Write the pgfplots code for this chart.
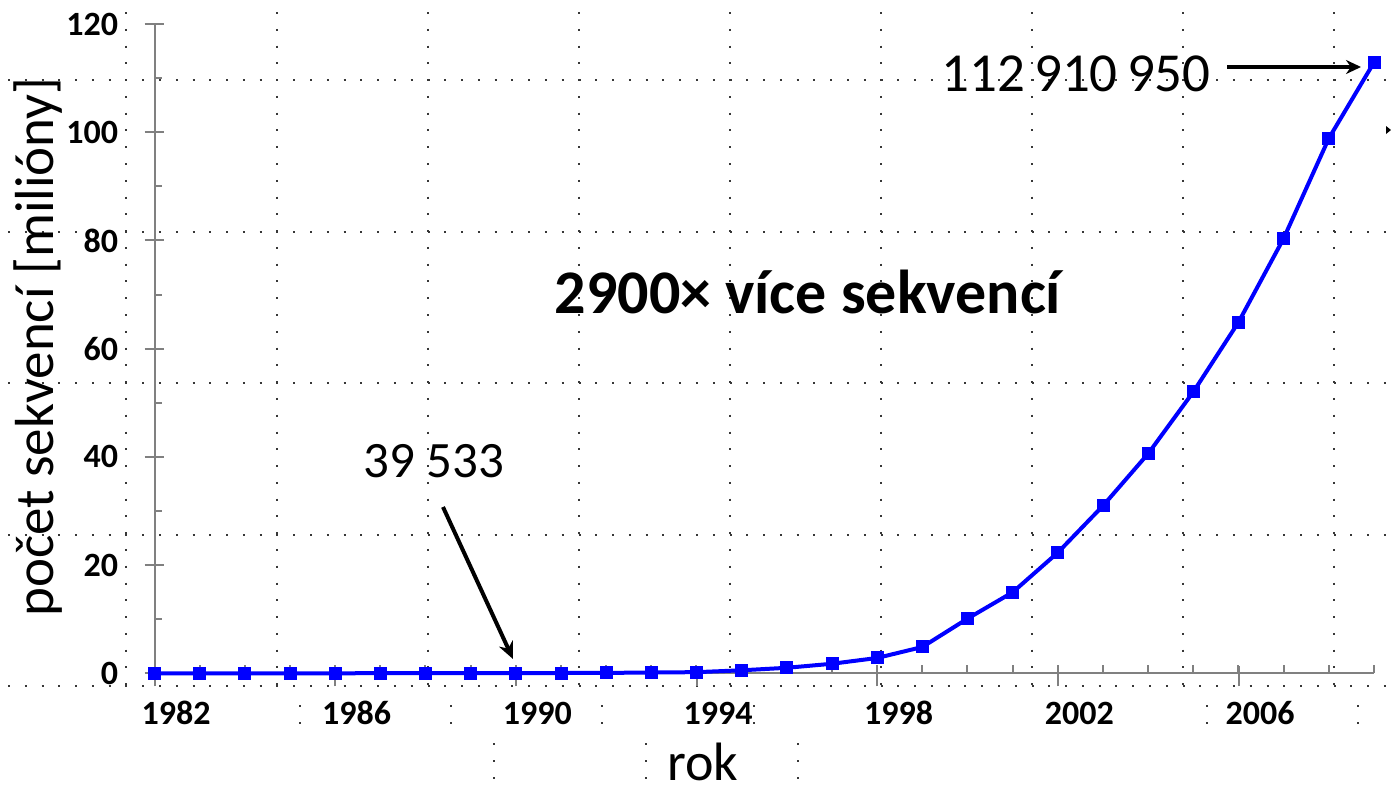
\documentclass[border=0pt]{standalone}
\usepackage{fontspec}
\setmainfont{Carlito}
\usepackage{pgfplots}
\usepackage{pgfplotstable}
\pgfplotsset{compat=1.18}
\usetikzlibrary{arrows.meta}
\definecolor{axgray}{RGB}{128,128,128}
\definecolor{dotgray}{RGB}{55,55,55}
\definecolor{lineblue}{RGB}{0,0,255}

\pgfplotstableread{
year value
1982 0.000606
1983 0.002427
1984 0.004175
1985 0.005700
1986 0.009978
1987 0.014584
1988 0.020579
1989 0.028791
1990 0.039533
1991 0.055627
1992 0.078608
1993 0.143492
1994 0.215273
1995 0.555694
1996 1.021211
1997 1.765847
1998 2.837897
1999 4.864570
2000 10.106023
2001 14.976310
2002 22.318883
2003 30.968418
2004 40.604319
2005 52.016762
2006 64.893747
2007 80.388382
2008 98.868465
2009 112.910950
}\seqdata

\begin{document}
\begin{tikzpicture}
% background dotted guides (pixel coordinates: 1 px = 0.5 pt)
\begin{scope}[x=0.5pt,y=-0.5pt]
  \foreach \yy in {80,231.5,383,534.5,686}{
    \draw[dotgray, line width=1pt, dash pattern=on 1pt off 7.39pt] (8,\yy) -- (1391,\yy);
  }
  \foreach \xx in {126,277,428,579,730,881,1032,1183,1334}{
    \draw[dotgray, line width=1pt, dash pattern=on 1pt off 7.39pt] (\xx,12) -- (\xx,687);
  }
  \foreach \xx in {300,451,602,754,905,1056,1207,1358}{
    \fill[dotgray] (\xx-1,705) rectangle (\xx+1,707);
    \fill[dotgray] (\xx-1,722) rectangle (\xx+1,724);
  }
  \foreach \xx in {494,646,798}{
    \foreach \yy in {744,761,778}{
      \fill[dotgray] (\xx-1,\yy-1) rectangle (\xx+1,\yy+1);
    }
  }
\end{scope}

\begin{axis}[
  at={(77.25pt,-336.65pt)}, anchor=south west,
  scale only axis, width=609.75pt, height=324.65pt,
  xmin=1982, xmax=2009, ymin=0, ymax=120,
  clip=false,
  axis x line=bottom, axis y line=left,
  axis line style={-, axgray, line width=1pt},
  xtick={1982,1986,1990,1994,1998,2002,2006},
  xticklabels={1982,1986,1990,1994,1998,2002,2006},
  minor xtick={1982,...,2009},
  ytick={0,20,40,60,80,100,120},
  yticklabels={0,20,40,60,80,100,120},
  minor ytick={10,30,50,70,90,110},
  tick align=inside,
  major tick length=10pt, minor tick length=4pt,
  tick style={axgray, line width=1pt},
  every major x tick/.append style={yshift=-6.5pt},
  every major y tick/.append style={xshift=-5pt},
  xticklabel style={anchor=center, inner sep=0pt, xshift=10.75pt, yshift=-20pt,
    font=\fontsize{17pt}{17pt}\selectfont\bfseries},
  yticklabel style={anchor=east, inner sep=0pt, xshift=-18pt,
    font=\fontsize{17pt}{17pt}\selectfont\bfseries},
  xlabel={rok},
  ylabel={počet sekvencí [milióny]},
  xlabel style={at={(axis description cs:0.4498,-0.1645)}, anchor=base,
    font=\fontsize{27pt}{27pt}\selectfont},
  ylabel style={at={(axis description cs:-0.0832,0.5025)}, anchor=base,
    font=\fontsize{27.5pt}{27.5pt}\selectfont},
]
\addplot[lineblue, line width=2pt, mark=square*, mark size=3pt,
  mark options={solid, fill=lineblue, draw=lineblue, line width=0pt}]
  table[x=year, y=value]{\seqdata};
\end{axis}

% annotations (pixel coordinates)
\begin{scope}[x=0.5pt,y=-0.5pt]
  \node[font=\fontsize{31pt}{31pt}\selectfont\bfseries, anchor=base, inner sep=0pt] at (808,313) {2900× více sekvencí};
  \node[font=\fontsize{25.5pt}{25.5pt}\selectfont, anchor=base, inner sep=0pt] at (434,477) {39 533};
  \node[font=\fontsize{27.5pt}{27.5pt}\selectfont, anchor=base, inner sep=0pt] at (1076,91) {112\,910\,950};
  \draw[-{Stealth[length=8.5pt,width=7.5pt]}, line width=2pt] (443,507) -- (513,659);
  \draw[-{Stealth[length=7.5pt,width=7pt]}, line width=1.8pt] (1227,67) -- (1361,67);
  \fill (1386,126) -- (1391,130) -- (1386,134) -- cycle;
\end{scope}
\pgfresetboundingbox
\path[use as bounding box] (0,0) rectangle (695.5pt,-396.5pt);
\end{tikzpicture}
\end{document}
